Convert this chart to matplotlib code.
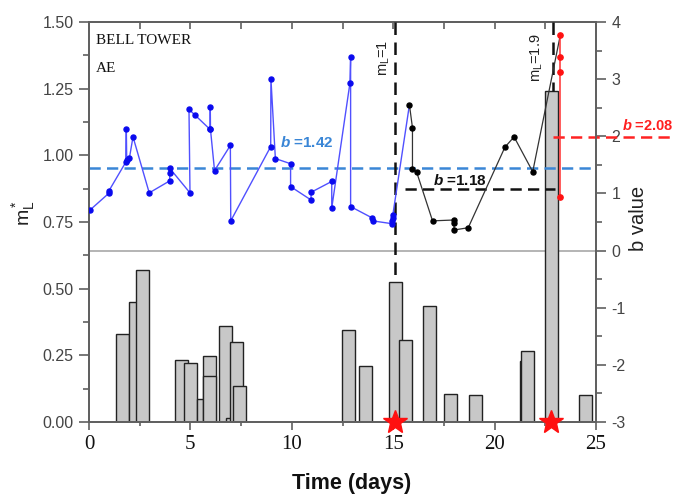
import matplotlib
matplotlib.use("Agg")
import matplotlib.pyplot as plt
from matplotlib.ticker import MultipleLocator

plt.rcParams['axes.unicode_minus'] = False
plt.rcParams['mathtext.fontset'] = 'custom'
plt.rcParams['mathtext.rm'] = 'Liberation Sans'
plt.rcParams['mathtext.it'] = 'Liberation Sans:italic'
plt.rcParams['mathtext.bf'] = 'Liberation Sans:bold'
plt.rcParams['mathtext.bfit'] = 'Liberation Sans:italic:bold'

# ---------------- data ----------------
bar_x = [1.65, 2.29, 2.64, 4.58, 5.00, 5.63, 5.93, 5.93, 6.75, 7.10, 7.25, 7.40,
         12.81, 13.63, 15.13, 15.60, 16.80, 17.82, 19.07, 21.59, 21.63, 22.82, 24.48]
bar_h = [0.33, 0.45, 0.571, 0.231, 0.222, 0.087, 0.2475, 0.174, 0.359, 0.015, 0.301, 0.134,
         0.345, 0.211, 0.526, 0.307, 0.436, 0.105, 0.101, 0.229, 0.265, 1.242, 0.101]

blue_x = [0.05, 0.97, 0.99, 1.81, 1.84, 1.86, 1.99, 2.17, 2.97, 3.98, 3.98, 3.98,
          4.98, 4.93, 5.23, 5.97, 5.98, 5.99, 6.19, 6.97, 6.99, 8.96, 8.97, 9.19,
          9.94, 9.94, 10.95, 10.95, 11.97, 11.97, 12.87, 12.90, 12.90, 13.97, 13.98,
          14.95, 14.96, 14.97, 14.98]
blue_b = [0.71, 1.00, 1.05, 1.545, 2.12, 1.585, 1.615, 1.99, 1.01, 1.22, 1.35, 1.44,
          1.01, 2.47, 2.37, 2.12, 2.52, 2.12, 1.40, 1.84, 0.52, 1.82, 3.01, 1.61,
          1.52, 1.12, 0.885, 1.02, 1.21, 0.745, 2.94, 3.39, 0.77, 0.57, 0.52,
          0.47, 0.52, 0.57, 0.62]

black_x = [15.80, 15.95, 15.95, 16.15, 16.94, 18.00, 18.00, 18.00, 18.70, 20.51, 20.96, 21.88]
black_b = [2.55, 2.15, 1.42, 1.38, 0.52, 0.535, 0.48, 0.36, 0.40, 1.81, 1.99, 1.38]

red_x = [23.24, 23.24, 23.24, 23.24]
red_b = [3.77, 3.39, 3.13, 0.94]

b_blue, b_black, b_red = 1.44, 1.07, 1.99
b_labels = ["1.42", "1.18", "2.08"]
star_x = [15.1, 22.8]
ml_x = [15.09, 22.86]
ml_labels = ["1", "1.9"]

# ---------------- figure ----------------
W, H = 676, 498
fig = plt.figure(figsize=(W / 100, H / 100), dpi=100)
ax = fig.add_axes([89 / W, 76 / H, 507 / W, 400 / H])
ax2 = ax.twinx()

spine_c = '#606060'
for a in (ax, ax2):
    for s in a.spines.values():
        s.set_color(spine_c)
        s.set_linewidth(1.3)

ax.set_xlim(0, 25)
ax.set_ylim(0, 1.5)
ax2.set_ylim(-3, 4)

# grey b=0 line (in left coords, below bars)
b0_left = (0 + 3) / 7 * 1.5
ax.axhline(b0_left, color='#a0a0a0', lw=1.1, zorder=1)

# bars
w = 0.64
for x, h in zip(bar_x, bar_h):
    ax.bar(x, h, width=w, color='#c8c8c8', edgecolor='#222222', linewidth=1.0, zorder=2)

# dashed b lines
ax2.axhline(b_blue, color='#3a86d6', lw=1.8, dashes=(4.5, 2.5), zorder=2)
ax2.plot([15.58, 22.98], [b_black, b_black], color='#111111', lw=1.8, dashes=(4.5, 2.5), zorder=2)
ax2.plot([22.9, 29.5], [b_red, b_red], color='#ff2222', lw=1.8, dashes=(4.5, 2.5), zorder=2,
         clip_on=False)

# vertical mL dashed lines
ax2.plot([ml_x[0], ml_x[0]], [4, -0.46], color='#111111', lw=1.8, dashes=(5, 3), zorder=3)
ax2.plot([ml_x[1], ml_x[1]], [4, 2.80], color='#111111', lw=1.8, dashes=(5, 3), zorder=3)

# series
ax2.plot(blue_x + [black_x[0]], blue_b + [black_b[0]], color='#5050ff', lw=1.0, zorder=4)
ax2.plot(blue_x, blue_b, ls='none', marker='o', ms=3.6, color='#0a0aee', zorder=5)
ax2.plot(black_x + [red_x[0]], black_b + [red_b[0]], color='#333333', lw=0.9, zorder=4)
ax2.plot(black_x, black_b, ls='none', marker='o', ms=3.6, color='#000000', zorder=5)
ax2.plot(red_x, red_b, color='#ff3030', lw=1.1, marker='o', ms=3.8, mfc='#ff1111', mec='#ff1111', zorder=5)

# stars
ax2.plot(star_x, [-3, -3], ls='none', marker='*', ms=18, color='#ff1010', mec='#ff1010',
         zorder=6, clip_on=False)

# b labels
ax2.text(9.42, 1.90, r'$\mathbfit{b}$ =' + b_labels[0], color='#3a86d6', fontsize=11,
         fontweight='bold', family='Liberation Sans', va='center', ha='left', zorder=6)
ax2.text(16.96, 1.235, r'$\mathbfit{b}$ =' + b_labels[1], color='#111111', fontsize=11,
         fontweight='bold', family='Liberation Sans', va='center', ha='left', zorder=6)
fig.text(674 / W, 1 - 125 / H, r'$\mathbfit{b}$ =' + b_labels[2], color='#ff2020', fontsize=10.5,
         fontweight='bold', family='Liberation Sans', va='center', ha='right', zorder=6)

# mL labels
ax2.text(14.55, 3.37, r'$\mathrm{m_L}$=' + ml_labels[0], rotation=90, fontsize=10.5,
         color='#222222', ha='center', va='center', family='Liberation Sans')
ax2.text(22.1, 3.37, r'$\mathrm{m_L}$=' + ml_labels[1], rotation=90, fontsize=10.5,
         color='#222222', ha='center', va='center', family='Liberation Sans')

# corner text
fig.text(96 / W, 1 - 40 / H, 'BELL TOWER', family='Liberation Serif',
         fontsize=11, va='center', ha='left', color='#111111')
fig.text(96 / W, 1 - 68.5 / H, 'AE', family='Liberation Serif',
         fontsize=11, va='center', ha='left', color='#111111')

# ticks: x bottom
ax.xaxis.set_major_locator(MultipleLocator(5))
ax.xaxis.set_minor_locator(MultipleLocator(2.5))
ax.tick_params(axis='x', which='major', direction='out', length=6, width=1.2, color=spine_c,
               pad=3, labelsize=15, labelcolor='#111111')
ax.tick_params(axis='x', which='minor', direction='out', length=3, width=1.2, color=spine_c)
for lbl in ax.get_xticklabels():
    lbl.set_family('Liberation Serif')

# top ticks inward
sec = ax.secondary_xaxis('top')
sec.xaxis.set_major_locator(MultipleLocator(2.5))
sec.tick_params(axis='x', direction='in', length=5, width=1.2, color=spine_c, labeltop=False)
sec.spines['top'].set_color(spine_c)
sec.spines['top'].set_linewidth(1.3)

# y left
ax.yaxis.set_major_locator(MultipleLocator(0.25))
ax.yaxis.set_minor_locator(MultipleLocator(0.125))
ax.yaxis.set_major_formatter(plt.FormatStrFormatter('%.2f'))
ax.tick_params(axis='y', which='major', direction='out', length=7, width=1.2, color=spine_c,
               pad=4, labelsize=11.5, labelcolor='#444444')
ax.tick_params(axis='y', which='minor', direction='out', length=4, width=1.2, color=spine_c)
for lbl in ax.get_yticklabels():
    lbl.set_family('Liberation Sans')

# y right
ax2.yaxis.set_major_locator(MultipleLocator(1))
ax2.yaxis.set_minor_locator(MultipleLocator(0.5))
ax2.tick_params(axis='y', which='major', direction='out', length=7, width=1.2, color=spine_c,
                pad=4, labelsize=11.5, labelcolor='#444444')
ax2.tick_params(axis='y', which='minor', direction='out', length=4, width=1.2, color=spine_c)
for lbl in ax2.get_yticklabels():
    lbl.set_family('Liberation Sans')

# axis labels
fig.text(24 / W, 1 - 213 / H, r'$\mathrm{m^*_L}$', rotation=90, fontsize=14, ha='center',
         va='center', color='#222222')
fig.text(638 / W, 1 - 218 / H, 'b value', rotation=90, fontsize=14.5, ha='center', va='center',
         family='Liberation Sans', color='#222222')
fig.text(352 / W, 1 - 483 / H, 'Time (days)', fontsize=15.5, fontweight='bold', ha='center',
         va='center', family='Liberation Sans', color='#111111')

fig.savefig('out.png', dpi=100)
